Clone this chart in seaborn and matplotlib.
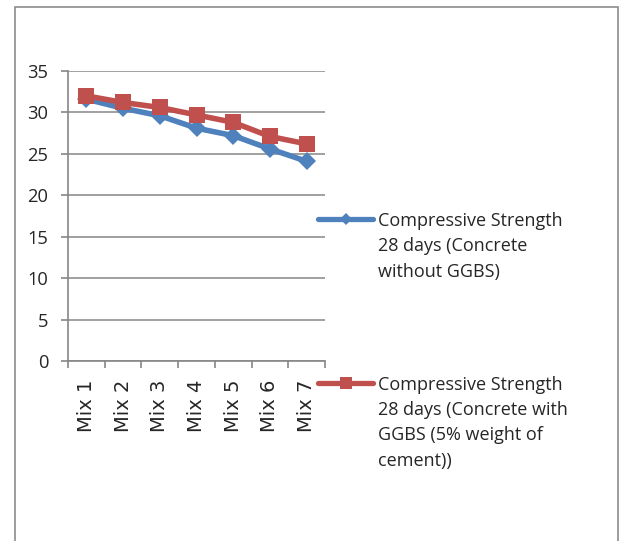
import matplotlib
matplotlib.use("Agg")
import matplotlib.pyplot as plt
import seaborn as sns
import pandas as pd
from matplotlib.lines import Line2D
from matplotlib.patches import Rectangle

categories = ["Mix 1", "Mix 2", "Mix 3", "Mix 4", "Mix 5", "Mix 6", "Mix 7"]
without_ggbs = [31.6, 30.5, 29.6, 28.1, 27.2, 25.6, 24.1]
with_ggbs = [32.0, 31.2, 30.6, 29.7, 28.8, 27.1, 26.2]
series_names = [
    "Compressive Strength\n28 days (Concrete\nwithout GGBS)",
    "Compressive Strength\n28 days (Concrete with\nGGBS (5% weight of\ncement))",
]
y_ticks = [0, 5, 10, 15, 20, 25, 30, 35]

BLUE = "#4F81BD"
RED = "#C0504D"
GRID = "#868686"

df = pd.DataFrame({
    "Mix": categories * 2,
    "Strength": without_ggbs + with_ggbs,
    "Series": [series_names[0]] * len(categories) + [series_names[1]] * len(categories),
})

sns.set_style("white")
plt.rcParams["font.family"] = ["Open Sans", "DejaVu Sans"]

W, H = 619, 541
fig = plt.figure(figsize=(W / 100, H / 100), dpi=100)
ax = fig.add_axes([68 / W, 1 - 361 / H, (325 - 68) / W, (361 - 71) / H])

sns.lineplot(data=df, x="Mix", y="Strength", hue="Series", style="Series",
             palette=[BLUE, RED], markers=["D", "s"], dashes=False,
             linewidth=4, markersize=9, markeredgewidth=0, ax=ax,
             legend=False, zorder=3)
lines = ax.get_lines()
if len(lines) >= 2:
    lines[0].set_markersize(9.5)
    lines[1].set_markersize(12)

ax.set_xlim(-0.5, 6.5)
ax.set_ylim(0, 35)
ax.set_yticks(y_ticks)
ax.set_yticklabels([str(v) for v in y_ticks], fontsize=13.2)
ax.set_xticks(range(len(categories)))
ax.set_xticklabels(categories, rotation=90, fontsize=14, family=["DejaVu Sans"])
ax.set_xticks([i - 0.5 for i in range(len(categories) + 1)], minor=True)
ax.tick_params(axis="x", which="major", length=0, pad=13.5)
ax.tick_params(axis="x", which="minor", length=5, width=1.2, color=GRID, direction="out", bottom=True)
ax.tick_params(axis="y", length=5, width=1.2, color=GRID, direction="out", left=True, pad=9)
ax.set_xlabel("")
ax.set_ylabel("")
ax.yaxis.grid(True, color=GRID, linewidth=1.1)
ax.set_axisbelow(True)
for s in ["top", "right"]:
    ax.spines[s].set_visible(False)
for s in ["left", "bottom"]:
    ax.spines[s].set_color(GRID)
    ax.spines[s].set_linewidth(1.2)


def fx(px):
    return px / W


def fy(py):
    return 1 - py / H


for color, marker, ms, ly, label in [
    (BLUE, "D", 6, 219, series_names[0]),
    (RED, "s", 8, 383, series_names[1]),
]:
    fig.add_artist(Line2D([fx(318), fx(373)], [fy(ly), fy(ly)], color=color,
                          linewidth=3.8, transform=fig.transFigure))
    fig.add_artist(Line2D([fx(345.5)], [fy(ly)], color=color, marker=marker,
                          markersize=ms, markeredgewidth=0, linestyle="none",
                          transform=fig.transFigure))
    for i, line_text in enumerate(label.split("\n")):
        fig.text(fx(378), fy(ly + 6.5 + i * 25.5), line_text, fontsize=13,
                 ha="left", va="baseline", transform=fig.transFigure)

fig.add_artist(Rectangle((fx(15), fy(560)), fx(618) - fx(15), fy(7) - fy(560),
                         fill=False, edgecolor="#8C8C8C", linewidth=1.2,
                         transform=fig.transFigure))

fig.savefig("out.png", dpi=100)
